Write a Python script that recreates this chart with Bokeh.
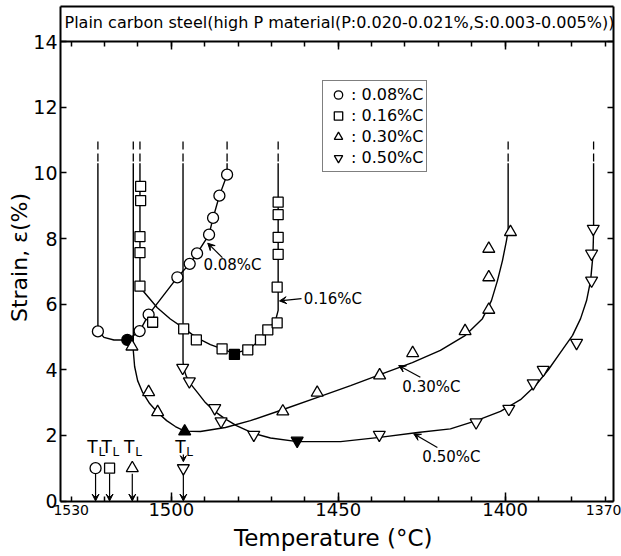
from bokeh.plotting import figure
from bokeh.models import (Range1d, LinearAxis, FixedTicker, Label, Arrow,
                          VeeHead, Legend, LegendItem, CustomLabelingPolicy)
from bokeh.core.properties import value
from bokeh.embed import file_html
from bokeh.resources import INLINE

FONT = "DejaVu Sans"

TITLE = "Plain carbon steel(high P material(P:0.020-0.021%,S:0.003-0.005%))"
SERIES = ["0.08%C", "0.16%C", "0.30%C", "0.50%C"]

# ---- measured points (temperature degC, strain %) ----
p08_T = [1522.0, 1509.5, 1506.8, 1498.2, 1494.5, 1492.3, 1488.7, 1487.5, 1485.6, 1483.3]
p08_S = [5.17, 5.18, 5.68, 6.82, 7.23, 7.55, 8.12, 8.63, 9.31, 9.95]
f08_T = [1513.2]
f08_S = [4.91]

p16_T = [1509.2, 1509.2, 1509.4, 1509.4, 1509.4, 1505.6, 1496.3, 1492.5, 1484.8,
         1477.1, 1473.3, 1471.1, 1468.3, 1468.3, 1468.0, 1468.0, 1468.0, 1468.0]
p16_S = [9.59, 9.16, 8.06, 7.57, 6.55, 5.45, 5.25, 4.91, 4.64,
         4.61, 4.91, 5.22, 5.43, 6.52, 7.52, 8.04, 8.73, 9.11]
f16_T = [1481.1]
f16_S = [4.47]

p30_T = [1511.8, 1506.8, 1504.1, 1466.6, 1456.3, 1437.6, 1427.7, 1412.0,
         1404.9, 1404.9, 1404.9, 1398.4]
p30_S = [4.71, 3.32, 2.71, 2.73, 3.30, 3.83, 4.51, 5.18, 5.83, 6.82, 7.69, 8.20]
f30_T = [1496.0]
f30_S = [2.12]

p50_T = [1496.6, 1494.6, 1487.0, 1485.1, 1475.3, 1437.7, 1408.7, 1398.9,
         1391.6, 1388.6, 1378.6, 1374.1, 1374.1, 1373.6]
p50_S = [4.06, 3.65, 2.83, 2.43, 2.02, 2.02, 2.40, 2.81, 3.59, 4.00, 4.82,
         6.72, 7.54, 8.30]
f50_T = [1462.3]
f50_S = [1.84]

# ---- hand-drawn curves ----
c08_T = [1522.0, 1522.0, 1521.0, 1520.2, 1517.2, 1513.2, 1509.5, 1506.8, 1498.2,
         1494.5, 1492.3, 1488.7, 1487.5, 1485.6, 1483.3, 1483.3]
c08_S = [10.3, 5.35, 5.08, 4.99, 4.91, 4.91, 5.18, 5.68, 6.82, 7.23, 7.55, 8.12,
         8.63, 9.31, 9.95, 10.3]

c16_T = [1509.4, 1509.4, 1508.2, 1504.2, 1500.3, 1496.3, 1492.6, 1488.3, 1484.8,
         1481.3, 1477.1, 1473.3, 1471.1, 1468.8, 1468.0, 1468.0]
c16_S = [10.3, 6.55, 6.37, 5.89, 5.55, 5.27, 4.99, 4.77, 4.64, 4.50, 4.61, 4.91,
         5.22, 5.50, 5.81, 10.3]

c30_T = [1511.4, 1511.4, 1511.0, 1510.1, 1508.6, 1506.5, 1504.1, 1501.4, 1498.8,
         1496.0, 1491.3, 1483.8, 1476.3, 1466.5, 1456.2, 1446.3, 1437.3, 1427.8,
         1419.4, 1411.9, 1406.8, 1404.1, 1402.3, 1400.8, 1399.6, 1399.1, 1399.1]
c30_S = [10.3, 4.59, 4.10, 3.67, 3.31, 2.97, 2.70, 2.45, 2.27, 2.13, 2.12, 2.24,
         2.45, 2.79, 3.16, 3.52, 3.86, 4.22, 4.59, 5.05, 5.56, 6.11, 6.72, 7.33,
         7.94, 8.25, 10.3]

c50_T = [1496.5, 1496.5, 1496.4, 1495.5, 1494.3, 1492.2, 1489.8, 1487.1, 1484.1,
         1480.5, 1475.4, 1470.3, 1462.2, 1449.3, 1437.6, 1426.2, 1416.4, 1408.6,
         1401.4, 1395.4, 1390.9, 1387.0, 1383.4, 1379.8, 1377.4, 1375.6, 1374.4,
         1373.7, 1373.5, 1373.5]
c50_S = [10.3, 4.30, 4.07, 3.80, 3.58, 3.31, 3.00, 2.74, 2.52, 2.30, 2.06, 1.92,
         1.81, 1.81, 1.94, 2.09, 2.20, 2.45, 2.73, 3.09, 3.52, 4.01, 4.53, 5.05,
         5.56, 6.11, 6.72, 7.48, 8.25, 10.3]

dash_S = [10.35, 11.05]

# liquidus temperatures
tl_T = [1522.7, 1518.5, 1511.7, 1496.4]
tl_S = [1.0, 1.0, 1.0, 1.0]

# axes
x_major = [1500, 1450, 1400]
x_minor = list(range(1370, 1531, 10))
x_edge = [1530, 1370]
y_ticks = [0, 2, 4, 6, 8, 10, 12, 14]

# plot box (axis limits) and the full view that also holds the axis texts
X0, X1 = 1533.2, 1367.5
Y0, Y1 = 0.0, 15.07
XL, XR = 1551.18, 1365.14
YB, YT = -1.692, 15.259

p = figure(width=621, height=556, output_backend="svg", toolbar_location=None,
           x_range=Range1d(XL, XR), y_range=Range1d(YB, YT),
           x_axis_type=None, y_axis_type=None,
           min_border_left=0, min_border_right=0, min_border_top=0,
           min_border_bottom=0)
p.outline_line_color = None
p.background_fill_color = "white"
p.border_fill_color = "white"

xt = FixedTicker(ticks=x_major, minor_ticks=x_minor)
yt = FixedTicker(ticks=y_ticks, minor_ticks=[])
none_t = FixedTicker(ticks=[], minor_ticks=[])


def style(ax):
    ax.axis_line_color = "black"
    ax.axis_line_width = 2
    ax.major_tick_line_color = "black"
    ax.minor_tick_line_color = "black"
    ax.major_tick_line_width = 1.5
    ax.minor_tick_line_width = 1.5
    ax.major_tick_out = 0
    ax.minor_tick_out = 0
    ax.major_label_text_font = FONT
    ax.major_label_text_color = "black"
    ax.axis_label_text_font = FONT
    ax.axis_label_text_font_style = "normal"
    ax.axis_label_text_color = "black"


def quiet():
    return CustomLabelingPolicy(code="return []")


bottom = LinearAxis(ticker=xt, axis_label="Temperature  (°C)",
                    fixed_location=Y0, bounds=(X1, X0))
style(bottom)
bottom.major_tick_in = 9
bottom.minor_tick_in = 5
bottom.major_label_text_font_size = "18px"
bottom.major_label_standoff = 2
bottom.axis_label_text_font_size = "23px"
bottom.axis_label_standoff = 5
p.add_layout(bottom, "below")

edge = LinearAxis(ticker=FixedTicker(ticks=x_edge, minor_ticks=[]),
                  fixed_location=Y0, bounds=(X1, X0))
style(edge)
edge.axis_line_color = None
edge.major_tick_line_color = None
edge.minor_tick_line_color = None
edge.major_label_text_font_size = "14px"
edge.major_label_standoff = 4
p.add_layout(edge, "below")

inner_top = LinearAxis(ticker=xt, fixed_location=14, bounds=(X1, X0),
                       major_label_policy=quiet())
style(inner_top)
inner_top.major_tick_in = 8
inner_top.minor_tick_in = 5
p.add_layout(inner_top, "above")

top_edge = LinearAxis(ticker=none_t, fixed_location=Y1, bounds=(X1, X0),
                      major_label_policy=quiet())
style(top_edge)
p.add_layout(top_edge, "above")

left = LinearAxis(ticker=yt, axis_label="Strain,  ε(%)", fixed_location=X0,
                  bounds=(Y0, Y1))
style(left)
left.major_tick_in = 6
left.minor_tick_in = 0
left.major_label_text_font_size = "19px"
left.major_label_standoff = 3
left.axis_label_text_font_size = "22px"
left.axis_label_standoff = -2
p.add_layout(left, "left")

right = LinearAxis(ticker=yt, fixed_location=X1, bounds=(Y0, Y1),
                   major_label_policy=quiet())
style(right)
right.major_tick_in = 6
right.minor_tick_in = 0
p.add_layout(right, "right")

# title inside the boxed strip
p.add_layout(Label(x=1532.0, y=14.6, text=TITLE, text_font=FONT,
                   text_font_size="16px", text_baseline="middle",
                   text_align="left", text_color="black"))

# curves
curves = [(c08_T, c08_S), (c16_T, c16_S), (c30_T, c30_S), (c50_T, c50_S)]
for cT, cS in curves:
    p.line(cT, cS, line_color="black", line_width=1.4)
    for t in (cT[0], cT[-1]):
        p.line([t, t], dash_S, line_color="black", line_width=1.3,
               line_dash="8 4")

# T_L arrows
for t, s in zip(tl_T, tl_S):
    p.add_layout(Arrow(x_start=t, y_start=s - 0.17, x_end=t, y_end=0.0,
                       line_width=1.2, line_color="black",
                       end=VeeHead(size=7, fill_color="black",
                                   line_color="black", line_width=1)))
p.add_layout(Arrow(x_start=tl_T[3], y_start=1.42, x_end=tl_T[3], y_end=1.2,
                   line_width=1.2, line_color="black",
                   end=VeeHead(size=6, fill_color="black", line_color="black",
                               line_width=1)))
p.text(x=tl_T, y=[1.66] * 4, text=["T"] * 4, x_offset=-3,
       text_font=value(FONT), text_font_size="17px", text_align="center",
       text_baseline="middle", text_color="black")
p.text(x=tl_T, y=[1.66] * 4, text=["L"] * 4, x_offset=3, y_offset=5,
       text_font=value(FONT), text_font_size="12px", text_align="left",
       text_baseline="middle", text_color="black")

mk = dict(line_color="black", line_width=1.3)
r08 = p.scatter(p08_T, p08_S, marker="circle", size=11, fill_color="white", **mk)
p.scatter(f08_T, f08_S, marker="circle", size=11, fill_color="black", **mk)
r16 = p.scatter(p16_T, p16_S, marker="square", size=10, fill_color="white", **mk)
p.scatter(f16_T, f16_S, marker="square", size=10, fill_color="black", **mk)
r30 = p.scatter(p30_T, p30_S, marker="triangle", size=12, fill_color="white", **mk)
p.scatter(f30_T, f30_S, marker="triangle", size=12, fill_color="black", **mk)
r50 = p.scatter(p50_T, p50_S, marker="inverted_triangle", size=12,
                fill_color="white", **mk)
p.scatter(f50_T, f50_S, marker="inverted_triangle", size=12,
          fill_color="black", **mk)

# T_L markers
p.scatter(tl_T[0:1], tl_S[0:1], marker="circle", size=11, fill_color="white", **mk)
p.scatter(tl_T[1:2], tl_S[1:2], marker="square", size=10, fill_color="white", **mk)
p.scatter(tl_T[2:3], tl_S[2:3], marker="triangle", size=12, fill_color="white", **mk)
p.scatter(tl_T[3:4], tl_S[3:4], marker="inverted_triangle", size=12,
          fill_color="white", **mk)

# curve annotations
ann = [(SERIES[0], 1490.4, 7.21, (1484.7, 7.42), (1489.1, 7.86)),
       (SERIES[1], 1460.3, 6.16, (1461.0, 6.17), (1467.6, 6.10)),
       (SERIES[2], 1430.8, 3.47, (1425.4, 3.77), (1431.9, 4.13)),
       (SERIES[3], 1424.8, 1.34, (1420.3, 1.63), (1427.4, 2.05))]
for txt, tx, ty, a0, a1 in ann:
    p.add_layout(Label(x=tx, y=ty, text=txt, text_font=FONT,
                       text_font_size="15px", text_baseline="middle",
                       text_align="left", text_color="black"))
    p.add_layout(Arrow(x_start=a0[0], y_start=a0[1], x_end=a1[0], y_end=a1[1],
                       line_width=1.2, line_color="black",
                       end=VeeHead(size=7, fill_color="black",
                                   line_color="black", line_width=1)))

legend = Legend(items=[LegendItem(label=": " + SERIES[0], renderers=[r08]),
                       LegendItem(label=": " + SERIES[1], renderers=[r16]),
                       LegendItem(label=": " + SERIES[2], renderers=[r30]),
                       LegendItem(label=": " + SERIES[3], renderers=[r50])],
                location=(322, 384))
legend.border_line_color = "black"
legend.border_line_width = 1.5
legend.background_fill_color = "white"
legend.background_fill_alpha = 1
legend.label_text_font = FONT
legend.label_text_font_size = "16px"
legend.label_text_color = "black"
legend.glyph_width = 24
legend.glyph_height = 21
legend.label_height = 21
legend.label_standoff = 1
legend.spacing = 0
legend.padding = 3
legend.margin = 0
p.add_layout(legend)

open("out.html", "w").write(file_html(p, INLINE))
